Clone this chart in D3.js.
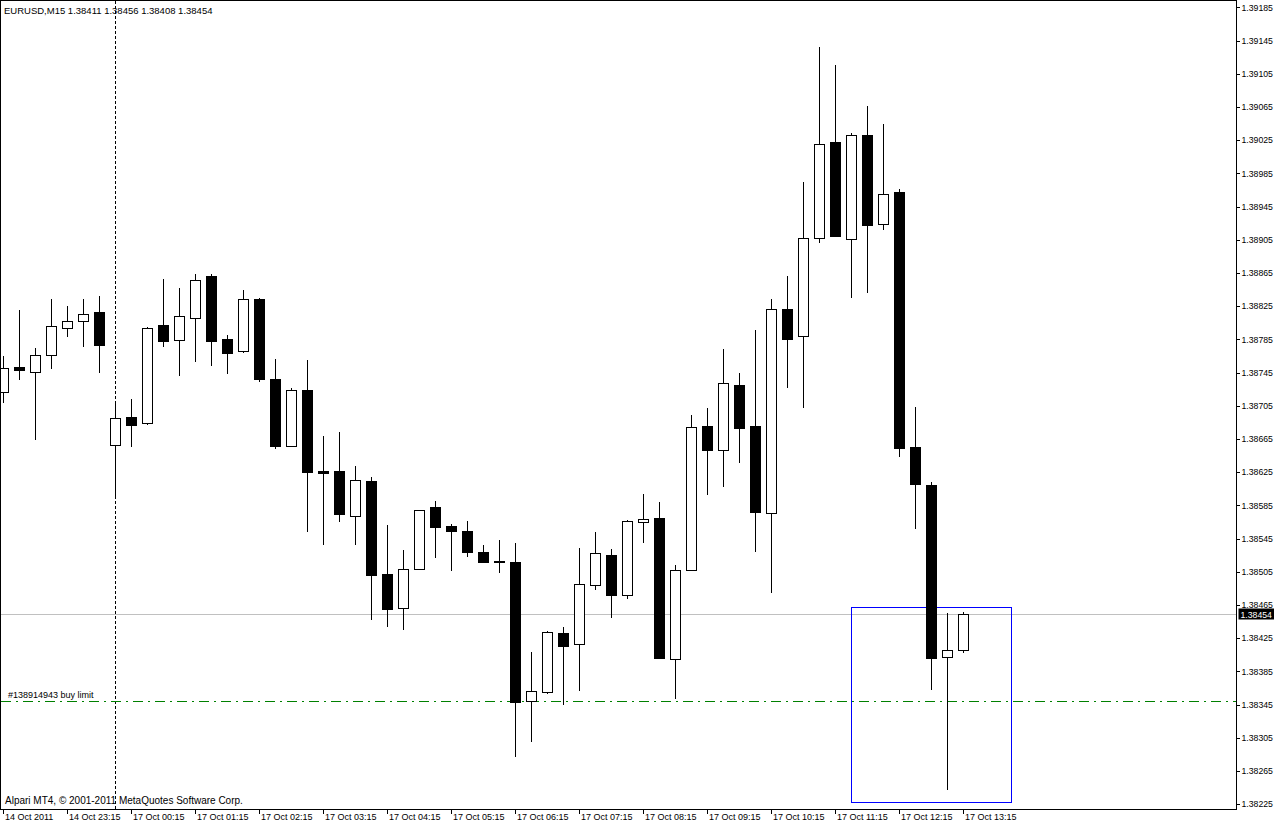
<!DOCTYPE html>
<html>
<head>
<meta charset="utf-8">
<script src="https://cdn.jsdelivr.net/npm/d3@7"></script>
<style>
    body { margin: 0; background: #fff; }
    text { font-family: "Liberation Sans", Arial, sans-serif; font-size: 9px; fill: #000; }
    .header { font-size: 9.5px; }
    .copyright { font-size: 10px; }
    .axis path { display: none; }
    .axis line { stroke: #000; shape-rendering: crispEdges; }
</style>
</head>
<body>
<div id="chart"></div>
<script>
var width = 1274;
var height = 826;
var plotRight = 1236.5;
var plotBottom = 809.5;

var SYMBOL = 'EURUSD,M15';
var COPYRIGHT = 'Alpari MT4, \u00a9 2001-2011 MetaQuotes Software Corp.';
var ORDER_LABEL = '#138914943 buy limit';

// 15 minute bars, 14 Oct 22:15 .. 17 Oct 13:15
var OPEN = [1.38721, 1.38752, 1.38746, 1.38766, 1.38799, 1.38807, 1.38818, 1.38658, 1.38691, 1.38684,
    1.38802, 1.38784, 1.38811, 1.38861, 1.38785, 1.38771, 1.38834, 1.38737, 1.38657, 1.38724,
    1.38626, 1.38626, 1.38572, 1.38614, 1.38502, 1.38461, 1.38508, 1.38583, 1.38560, 1.38554,
    1.38529, 1.38518, 1.38517, 1.38349, 1.38360, 1.38431, 1.38418, 1.38489, 1.38525, 1.38477,
    1.38565, 1.38570, 1.38400, 1.38507, 1.38681, 1.38652, 1.38730, 1.38680, 1.38576, 1.38822,
    1.38789, 1.38907, 1.39023, 1.38906, 1.39031, 1.38924, 1.38962, 1.38655, 1.38610, 1.38402,
    1.38411];
var HIGH = [1.38765, 1.38820, 1.38774, 1.38834, 1.38825, 1.38834, 1.38837, 1.38707, 1.38713, 1.38800,
    1.38858, 1.38847, 1.38864, 1.38864, 1.38790, 1.38844, 1.38835, 1.38761, 1.38726, 1.38760,
    1.38668, 1.38673, 1.38632, 1.38619, 1.38561, 1.38531, 1.38579, 1.38590, 1.38562, 1.38566,
    1.38537, 1.38543, 1.38540, 1.38408, 1.38434, 1.38438, 1.38534, 1.38553, 1.38532, 1.38567,
    1.38599, 1.38589, 1.38513, 1.38694, 1.38702, 1.38773, 1.38744, 1.38796, 1.38833, 1.38861,
    1.38974, 1.39137, 1.39115, 1.39034, 1.39066, 1.39045, 1.38966, 1.38704, 1.38613, 1.38455,
    1.38456];
var LOW = [1.38710, 1.38737, 1.38665, 1.38751, 1.38789, 1.38777, 1.38745, 1.38595, 1.38656, 1.38683,
    1.38777, 1.38742, 1.38759, 1.38754, 1.38744, 1.38770, 1.38735, 1.38654, 1.38656, 1.38554,
    1.38538, 1.38566, 1.38538, 1.38448, 1.38440, 1.38436, 1.38508, 1.38523, 1.38507, 1.38524,
    1.38517, 1.38505, 1.38283, 1.38301, 1.38359, 1.38345, 1.38362, 1.38484, 1.38450, 1.38473,
    1.38541, 1.38401, 1.38353, 1.38507, 1.38599, 1.38608, 1.38637, 1.38530, 1.38480, 1.38727,
    1.38703, 1.38902, 1.38909, 1.38836, 1.38842, 1.38918, 1.38645, 1.38558, 1.38364, 1.38243,
    1.38408];
var CLOSE = [1.38750, 1.38748, 1.38766, 1.38801, 1.38807, 1.38816, 1.38778, 1.38690, 1.38682, 1.38799,
    1.38783, 1.38813, 1.38857, 1.38783, 1.38769, 1.38834, 1.38737, 1.38656, 1.38724, 1.38625,
    1.38624, 1.38574, 1.38615, 1.38501, 1.38460, 1.38508, 1.38579, 1.38559, 1.38554, 1.38529,
    1.38517, 1.38517, 1.38348, 1.38361, 1.38432, 1.38415, 1.38490, 1.38527, 1.38477, 1.38566,
    1.38568, 1.38401, 1.38507, 1.38679, 1.38652, 1.38732, 1.38678, 1.38577, 1.38821, 1.38785,
    1.38907, 1.39020, 1.38909, 1.39031, 1.38923, 1.38960, 1.38654, 1.38611, 1.38401, 1.38411,
    1.38454];

var TIME_TICKS = [0, 4, 8, 12, 16, 20, 24, 28, 32, 36, 40, 44, 48, 52, 56, 60];
var TIME_LABELS = ['14 Oct 2011', '14 Oct 23:15', '17 Oct 00:15', '17 Oct 01:15', '17 Oct 02:15',
    '17 Oct 03:15', '17 Oct 04:15', '17 Oct 05:15', '17 Oct 06:15', '17 Oct 07:15', '17 Oct 08:15',
    '17 Oct 09:15', '17 Oct 10:15', '17 Oct 11:15', '17 Oct 12:15', '17 Oct 13:15'];

var PRICE_TICKS = [];
for (var k = 0; k <= 24; k++) PRICE_TICKS.push(1.38225 + k * 0.0004);

var DAY_SEPARATOR = 7;          // first bar of 17 Oct
var ORDER_PRICE = 1.38349;      // buy limit
var BOX_BARS = [53, 63];
var BOX_PRICES = [1.38462, 1.38227];

var COLOR_ORDER = '#008000';
var COLOR_BOX = '#0000ff';
var COLOR_BID = '#c0c0c0';

var svg = d3.select('#chart')
    .append('svg')
    .attr('width', width)
    .attr('height', height);

var x = d3.scaleLinear()
    .domain([0, 60])
    .range([3.5, 963.5]);

var y = d3.scaleLinear()
    .domain([1.38225, 1.39185])
    .range([804.1, 7.3]);

var py = function (p) { return Math.round(y(p)) + 0.5; };

// bid line
svg.append('line')
    .attr('x1', 0).attr('x2', plotRight)
    .attr('y1', py(CLOSE[CLOSE.length - 1])).attr('y2', py(CLOSE[CLOSE.length - 1]))
    .attr('stroke', COLOR_BID)
    .attr('shape-rendering', 'crispEdges');

// day separator
svg.append('line')
    .attr('x1', x(DAY_SEPARATOR)).attr('x2', x(DAY_SEPARATOR))
    .attr('y1', 1).attr('y2', plotBottom)
    .attr('stroke', '#000')
    .attr('stroke-dasharray', '3,2')
    .attr('shape-rendering', 'crispEdges');

// pending order
svg.append('line')
    .attr('x1', 1).attr('x2', plotRight)
    .attr('y1', py(ORDER_PRICE)).attr('y2', py(ORDER_PRICE))
    .attr('stroke', COLOR_ORDER)
    .attr('stroke-dasharray', '10,5,2,5')
    .attr('shape-rendering', 'crispEdges');
svg.append('text')
    .text(ORDER_LABEL)
    .attr('x', 8)
    .attr('y', py(ORDER_PRICE) - 4);

// rectangle object
svg.append('rect')
    .attr('x', x(BOX_BARS[0]))
    .attr('y', py(BOX_PRICES[0]))
    .attr('width', x(BOX_BARS[1]) - x(BOX_BARS[0]))
    .attr('height', py(BOX_PRICES[1]) - py(BOX_PRICES[0]))
    .attr('fill', 'none')
    .attr('stroke', COLOR_BOX)
    .attr('shape-rendering', 'crispEdges');

// candles
var bars = d3.range(OPEN.length);
var g = svg.append('g').attr('shape-rendering', 'crispEdges');

g.selectAll('line.wick')
    .data(bars)
    .enter().append('line')
    .attr('class', 'wick')
    .attr('x1', function (i) { return x(i); })
    .attr('x2', function (i) { return x(i); })
    .attr('y1', function (i) { return Math.round(y(HIGH[i])); })
    .attr('y2', function (i) { return Math.round(y(LOW[i])) + 1; })
    .attr('stroke', '#000');

g.selectAll('rect.body')
    .data(bars)
    .enter().append('rect')
    .attr('class', 'body')
    .attr('x', function (i) { return CLOSE[i] >= OPEN[i] ? x(i) - 5 : x(i) - 5.5; })
    .attr('width', function (i) { return CLOSE[i] >= OPEN[i] ? 10 : 11; })
    .attr('y', function (i) {
        var t = Math.round(y(Math.max(OPEN[i], CLOSE[i])));
        return CLOSE[i] >= OPEN[i] ? t + 0.5 : t;
    })
    .attr('height', function (i) {
        var t = Math.round(y(Math.max(OPEN[i], CLOSE[i])));
        var b = Math.round(y(Math.min(OPEN[i], CLOSE[i])));
        return CLOSE[i] >= OPEN[i] ? Math.max(b - t, 1) : Math.max(b - t + 1, 2);
    })
    .attr('fill', function (i) { return CLOSE[i] >= OPEN[i] ? '#fff' : '#000'; })
    .attr('stroke', function (i) { return CLOSE[i] >= OPEN[i] ? '#000' : 'none'; });

// frame
svg.append('rect')
    .attr('x', 0.5).attr('y', 0.5)
    .attr('width', plotRight - 0.5)
    .attr('height', plotBottom - 0.5)
    .attr('fill', 'none')
    .attr('stroke', '#000')
    .attr('shape-rendering', 'crispEdges');

// price axis
svg.append('g')
    .attr('class', 'axis')
    .attr('transform', 'translate(' + plotRight + ',0)')
    .call(d3.axisRight(y)
        .tickValues(PRICE_TICKS)
        .tickSize(3)
        .tickPadding(2)
        .tickFormat(d3.format('.5f')))
    .selectAll('text')
        .style('font-size', '8.7px');

// time axis
svg.append('g')
    .attr('class', 'axis')
    .attr('transform', 'translate(-1,' + plotBottom + ')')
    .call(d3.axisBottom(x)
        .tickValues(TIME_TICKS)
        .tickSize(4)
        .tickFormat(function (d, i) { return TIME_LABELS[i]; }))
    .selectAll('text')
        .attr('text-anchor', 'start')
        .attr('x', 2)
        .attr('y', 4)
        .style('font-size', '9px');

// bid tag on the price axis
var bid = CLOSE[CLOSE.length - 1];
svg.append('rect')
    .attr('x', plotRight + 2)
    .attr('y', py(bid) - 6)
    .attr('width', width - plotRight)
    .attr('height', 11)
    .attr('fill', '#000');
svg.append('text')
    .text(d3.format('.5f')(bid))
    .attr('x', plotRight + 4)
    .attr('y', py(bid) + 3.5)
    .style('font-size', '8.7px')
    .style('fill', '#fff');

// header and copyright
svg.append('text')
    .text(SYMBOL + '  ' + [OPEN, HIGH, LOW, CLOSE].map(function (s) {
        return d3.format('.5f')(s[s.length - 1]);
    }).join(' '))
    .attr('class', 'header')
    .attr('x', 4)
    .attr('y', 14);

svg.append('text')
    .text(COPYRIGHT)
    .attr('class', 'copyright')
    .attr('x', 5)
    .attr('y', 804);
</script>
</body>
</html>
